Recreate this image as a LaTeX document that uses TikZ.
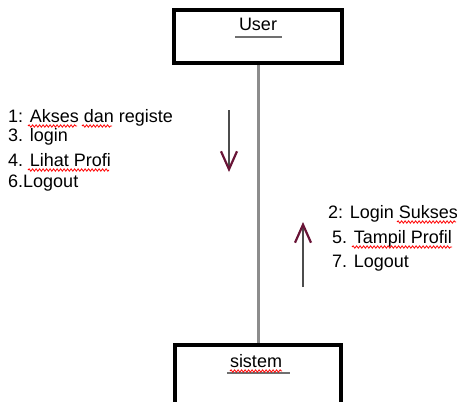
\documentclass[tikz,border=0pt]{standalone}
\usepackage{fontspec}
\setmainfont{Liberation Sans}
\usetikzlibrary{arrows.meta,decorations.pathmorphing}
\definecolor{maroon}{RGB}{105,20,55}
\definecolor{lifegrey}{RGB}{140,140,140}
\begin{document}
\begin{tikzpicture}[x=1pt,y=-1pt,
  font=\fontsize{18}{21}\selectfont,
  obj/.style={draw=black,line width=4.5pt,fill=white},
  lbl/.style={anchor=base west,inner sep=0pt},
  ttl/.style={anchor=base,inner sep=0pt},
  uline/.style={draw=lifegrey!80!black,line width=2pt},
  life/.style={draw=lifegrey,line width=3pt},
  msg/.style={draw=black!70,line width=1.6pt,
    -{Straight Barb[length=18pt,width=16pt,line width=2.2pt,color=maroon]}},
  spell/.style={draw=red,line width=0.8pt,decorate,
    decoration={snake,amplitude=1.2pt,segment length=3.5pt}}]
\useasboundingbox (0,0) rectangle (457,401);
\clip (0,0) rectangle (457,401);
\fill[white] (0,0) rectangle (457,401);
% objects
\node[obj,minimum width=168pt,minimum height=53pt] (user) at (258,36.5) {};
\node[obj,minimum width=166pt,minimum height=64pt] (sistem) at (258,377) {};
\draw[life] (user) -- (sistem);
% titles
\node[ttl] (usertxt) at (258,31) {User};
\draw[uline] (235,37) -- (282,37);
\node[ttl] (sistemtxt) at (256,367) {sistem};
\draw[uline] (227,372.5) -- (290,372.5);
\draw[spell] (230,371) -- (282,371);
% messages
\coordinate (d1) at (229,110);
\coordinate (d2) at (229,172);
\draw[msg] (d1) -- (d2);
\coordinate (u1) at (303,287);
\coordinate (u2) at (303,222);
\draw[msg] (u1) -- (u2);
% labels left
\node[lbl] (m1) at (8,122) {1: Akses dan registe};
\node[lbl] (m3) at (8,141) {3. login};
\node[lbl] (m4) at (8,166) {4. Lihat Profi};
\node[lbl] (m6) at (8,187) {6.Logout};
\draw[spell] (28,126) -- (77,126);
\draw[spell] (82,126) -- (112,126);
\draw[spell] (28,170) -- (109,170);
% labels right
\node[lbl] (m2) at (328,218) {2: Login Sukses};
\node[lbl] (m5) at (332,243) {5. Tampil Profil};
\node[lbl] (m7) at (332,267) {7. Logout};
\draw[spell] (397,222) -- (456,222);
\draw[spell] (352,247) -- (452,247);
\end{tikzpicture}
\end{document}
